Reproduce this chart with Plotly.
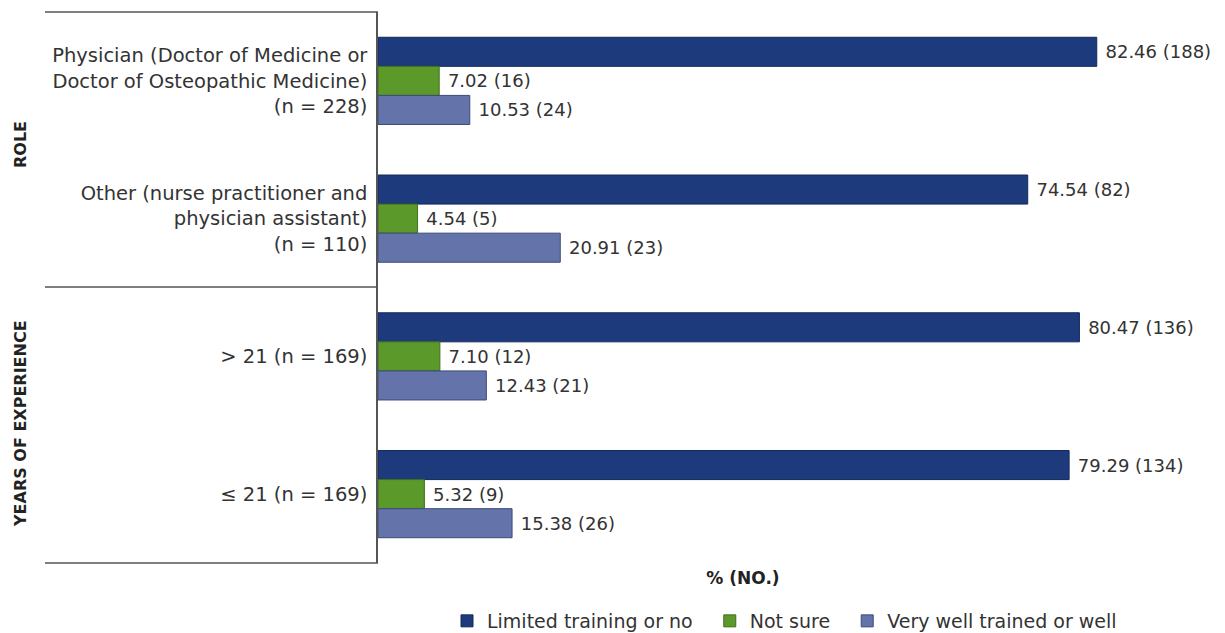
import plotly.graph_objects as go

categories = [
    "Physician (Doctor of Medicine or<br>Doctor of Osteopathic Medicine)<br>(n = 228)",
    "Other (nurse practitioner and<br>physician assistant)<br>(n = 110)",
    "> 21 (n = 169)",
    "≤ 21 (n = 169)",
]
series_names = ["Limited training or no", "Not sure", "Very well trained or well"]
limited_pct = [82.46, 74.54, 80.47, 79.29]
limited_n = [188, 82, 136, 134]
notsure_pct = [7.02, 4.54, 7.10, 5.32]
notsure_n = [16, 5, 12, 9]
verywell_pct = [10.53, 20.91, 12.43, 15.38]
verywell_n = [24, 23, 21, 26]
group_labels = ["ROLE", "YEARS OF EXPERIENCE"]
x_title = "% (NO.)"

colors = ["#1d3a7c", "#5b9a2a", "#6474aa"]
edge = ["#14295a", "#3f6e1c", "#3c4a78"]
legend_pad = ["\u00a0\u00a0", "\u00a0\u00a0", ""]

W, H = 1225, 633
L, R, T, B = 378, 117, 12, 70
pw = W - L - R
ph = H - T - B
FONT = "DejaVu Sans"

fig = go.Figure()
for name, pct, cnt, c, e, pad in zip(series_names,
                                     [limited_pct, notsure_pct, verywell_pct],
                                     [limited_n, notsure_n, verywell_n], colors, edge,
                                     legend_pad):
    fig.add_trace(go.Bar(
        y=categories, x=pct, orientation="h", name=name + pad,
        marker=dict(color=c, line=dict(color=e, width=1)),
        text=[f" {p:.2f} ({n})" for p, n in zip(pct, cnt)],
        textposition="outside", cliponaxis=False, constraintext="none",
        textfont=dict(family=FONT, size=18, color="#333333"),
        hoverinfo="skip",
    ))

def px_x(p):
    return (p - L) / pw

def px_y(p):
    return (H - B - p) / ph

shapes = []
for yy in [12, 287, 563]:
    shapes.append(dict(type="line", xref="paper", yref="paper",
                       x0=px_x(45), x1=px_x(378), y0=px_y(yy), y1=px_y(yy),
                       line=dict(color="#555555", width=1.5)))
fig.update_layout(shapes=shapes)

for lbl, yc in zip(group_labels, [145, 424]):
    fig.add_annotation(text=f"<b>{lbl}</b>", xref="paper", yref="paper",
                       x=px_x(20), y=px_y(yc), xanchor="center", yanchor="middle",
                       textangle=-90, showarrow=False,
                       font=dict(family=FONT, size=16, color="#222222"))

fig.update_layout(
    width=W, height=H,
    margin=dict(l=L, r=R, t=T, b=B, pad=0, autoexpand=False),
    paper_bgcolor="white", plot_bgcolor="white",
    barmode="group", bargap=0.367, bargroupgap=0,
    font=dict(family=FONT, size=18, color="#333333"),
    xaxis=dict(range=[0, 83.75], showticklabels=False, showgrid=False,
               zeroline=False, showline=False, ticks="", automargin=False,
               title=dict(text=f"<b>{x_title}</b>", standoff=9,
                          font=dict(family=FONT, size=17, color="#222222"))),
    yaxis=dict(autorange="reversed", showgrid=False, zeroline=False,
               showline=True, linecolor="#555555", linewidth=1.5,
               ticks="", ticklabelstandoff=5, automargin=False,
               tickfont=dict(family=FONT, size=19.5, color="#333333")),
    legend=dict(orientation="h", x=447 / W, xanchor="left", xref="container",
                y=1 - 621 / H, yanchor="middle", yref="container",
                traceorder="normal",
                font=dict(family=FONT, size=19, color="#333333"),
                itemclick=False, itemdoubleclick=False),
    showlegend=True,
)

fig.write_html("out.html")
